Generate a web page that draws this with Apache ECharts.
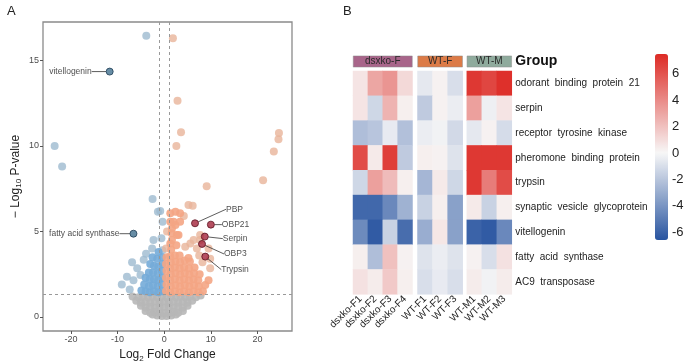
<!DOCTYPE html>
<html><head><meta charset="utf-8">
<script src="https://cdn.jsdelivr.net/npm/echarts@6/dist/echarts.min.js"></script>
<style>html,body{margin:0;padding:0;background:#fff}#c{width:692px;height:362px}</style>
</head><body><div id="c"></div>
<script>
// ---------- Panel A : volcano plot data (log2 fold change, -log10 p) ----------
const grayPoints = [
  [-2.5,0.15],[-1.5,0.08],[-0.5,0.05],[0.5,0.05],[1.5,0.08],[2.5,0.15],
  [-4,0.35],[-3,0.25],[-2,0.3],[-1,0.2],[0,0.25],[1,0.2],[2,0.3],[3,0.25],[4,0.35],
  [-5,0.65],[-4,0.55],[-3,0.6],[-2,0.55],[-1,0.6],[0,0.55],[1,0.6],[2,0.55],[3,0.6],[4,0.55],[5,0.65],
  [-6,0.95],[-5,0.85],[-4,0.9],[-3,0.85],[-2,0.9],[-1,0.85],[0,0.9],[1,0.85],[2,0.9],[3,0.85],[4,0.9],[5,0.85],[6,0.95],
  [-6.8,1.2],[-5.5,1.15],[-4.5,1.2],[-3.5,1.15],[-2.5,1.2],[-1.5,1.15],[-0.5,1.2],[0.5,1.15],[1.5,1.2],[2.5,1.15],[3.5,1.2],[4.5,1.15],[5.5,1.2],[6.8,1.15],[7.8,1.25]
];
const bluePoints = [
  [-0.4,1.5],[-1.3,1.45],[-2.2,1.5],[-3.1,1.45],[-4.0,1.5],[-4.9,1.55],
  [-0.5,1.9],[-1.4,1.8],[-2.4,1.85],[-3.3,1.8],[-4.3,1.9],
  [-0.4,2.3],[-1.3,2.15],[-2.2,2.2],[-3.1,2.2],[-4.0,2.3],
  [-0.5,2.7],[-1.4,2.55],[-2.4,2.6],[-3.3,2.6],
  [-0.4,3.1],[-1.3,2.95],[-2.2,3.0],[-3.0,3.1],
  [-0.5,3.5],[-1.5,3.4],[-2.5,3.5],[-1.2,3.8]
];
const bluePalePoints = [
  [-9.1,1.9],[-8.0,2.35],[-7.4,1.6],[-6.6,2.15],[-5.8,2.85],[-5.1,2.45],[-6.9,3.2],
  [-4.4,3.35],[-3.9,3.7],[-2.6,4.0],[-2.3,4.5],[-0.4,3.9],[-0.6,4.6],[-0.36,5.57],
  [-1.35,6.15],[-0.86,6.2],[-2.5,6.9],[-3.85,16.45],[-23.5,10.0],[-21.9,8.8]
];
const orangePoints = [
  [0.4,1.5],[1.3,1.45],[2.3,1.5],[3.3,1.45],[4.3,1.5],[5.3,1.45],[6.3,1.5],[7.3,1.45],[8.3,1.5],
  [0.5,1.9],[1.4,1.8],[2.4,1.85],[3.4,1.8],[4.4,1.85],[5.4,1.8],[6.4,1.85],[7.4,1.8],[8.8,1.87],
  [0.4,2.3],[1.3,2.15],[2.3,2.2],[3.3,2.15],[4.3,2.2],[5.3,2.15],[6.3,2.2],[7.3,2.15],[9.5,2.15],
  [0.5,2.7],[1.4,2.5],[2.4,2.55],[3.4,2.5],[4.4,2.55],[5.4,2.5],[6.4,2.55],[7.6,2.5],
  [0.4,3.1],[1.3,2.85],[2.3,2.9],[3.3,2.85],[4.3,2.9],[5.3,2.85],[6.5,2.9],
  [0.5,3.5],[1.4,3.2],[2.4,3.25],[3.4,3.2],[4.4,3.3],[5.5,3.25],
  [1.3,3.55],[2.3,3.6],[3.3,3.6],[5.2,3.45],
  [1.5,3.95],[2.6,4.2],[1.3,4.3],[1.65,4.5],[1.6,4.9],[2.7,4.8],[3.06,4.8],[1.65,5.17],
  [2.4,5.38],[1.3,5.57],[2.0,5.57],[3.4,5.57],[1.3,6.06],[2.4,6.16],[3.4,6.06]
];
const orangePalePoints = [
  [4.5,4.1],[5.6,4.3],[6.3,4.5],[7.0,4.0],[7.7,4.5],[7.7,4.8],[9.5,4.0],[9.85,3.4],[9.85,2.85],
  [8.2,3.2],[7.5,3.6],[0.4,4.0],[0.6,5.0],[5.2,6.55],[6.1,6.5],[4.2,5.9],[9.1,7.65],
  [21.2,8.0],[23.5,9.67],[24.5,10.4],[24.6,10.76],[2.6,10.0],[3.6,10.8],[2.85,12.65],[1.86,16.3]
];
const downGenes = ['vitellogenin','fatty acid synthase'];
const downFC = [-11.7,-6.6];
const downP = [14.35,4.87];
const upGenes = ['PBP','OBP21','Serpin','OBP3','Trypsin'];
const upFC = [6.6,10.0,8.7,8.1,8.8];
const upP = [5.48,5.4,4.7,4.27,3.53];
const xTicks = [-20,-10,0,10,20];
const yTicks = [0,5,10,15];
const fcCutoffs = [-1,1];
const pCutoff = 1.3;

// ---------- Panel B : heatmap data ----------
const genes = ['odorant binding protein 21','serpin','receptor tyrosine kinase','pheromone binding protein','trypsin',
  'synaptic vesicle glycoprotein','vitellogenin','fatty acid synthase','AC9 transposase'];
const groups = ['dsxko-F','WT-F','WT-M'];
const dsxkoSamples = ['dsxko-F1','dsxko-F2','dsxko-F3','dsxko-F4'];
const wtfSamples = ['WT-F1','WT-F2','WT-F3'];
const wtmSamples = ['WT-M1','WT-M2','WT-M3'];
const dsxkoValues = [
  [0.7,3.0,3.6,1.1],
  [0.7,-1.3,2.5,0.3],
  [-2.3,-2.0,-0.5,-2.2],
  [6.3,0.5,6.8,-1.8],
  [-1.3,3.2,2.2,0.3],
  [-5.8,-5.8,-4.5,-2.8],
  [-4.4,-6.3,-1.5,-5.6],
  [0.3,-2.3,2.0,0.2],
  [0.8,0.4,1.7,0.3]
];
const wtfValues = [
  [-0.6,0.2,-1.0],
  [-1.8,0.2,-0.4],
  [-0.4,-0.2,-1.2],
  [0.3,0.2,-0.8],
  [-2.6,0.5,-1.3],
  [-1.5,0.3,-3.5],
  [-3.0,0.6,-3.5],
  [-0.8,-0.4,-0.8],
  [-1.0,-0.5,-1.0]
];
const wtmValues = [
  [7.0,6.5,7.3],
  [3.2,-0.3,0.7],
  [-0.6,0.2,-1.1],
  [7.0,7.0,7.0],
  [7.0,4.5,6.3],
  [0.5,-1.5,0.3],
  [-6.0,-6.3,-4.5],
  [0.2,-1.0,0.8],
  [0.4,-0.2,0.4]
];
const colorbarTicks = [-6,-4,-2,0,2,4,6];
const colorMin = -6.6, colorMax = 7.5;

// ---------- build ----------
const FONT = 'Liberation Sans, Arial, Helvetica, sans-serif';
function mix(a,b,t){return 'rgb('+a.map((x,i)=>Math.round(x+(b[i]-x)*t)).join(',')+')';}
const lowC=[40,84,160], midC=[247,247,247], highC=[221,43,37];
const ramp=[];
for(let i=0;i<=70;i++){const v=colorMin+(colorMax-colorMin)*i/70; ramp.push(v<0?mix(midC,lowC,v/colorMin):mix(midC,highC,v/colorMax));}

const heatLayout = [
  {samples: dsxkoSamples, values: dsxkoValues, left:353, width:59.5, color:'#a8658a'},
  {samples: wtfSamples, values: wtfValues, left:417.5, width:45.2, color:'#dc7b47'},
  {samples: wtmSamples, values: wtmValues, left:466.8, width:45, color:'#8fab9d'}
];
const heatTop = 71, heatHeight = 223.3, annTop = 55.7, annHeight = 11.6;

const grid = [{left:43, top:22, width:249, height:309, show:true, borderColor:'#8a8a8a', borderWidth:1.3, backgroundColor:'#fff', outerBoundsMode:'none', containLabel:false}];
const xAxis = [{
  type:'value', gridIndex:0, min:-26, max:27.4,
  splitLine:{show:false}, axisLine:{show:false, onZero:false},
  axisTick:{show:true, customValues:xTicks, length:3, lineStyle:{color:'#555'}},
  axisLabel:{customValues:xTicks, fontSize:9, color:'#4d4d4d', margin:4, fontFamily:FONT},
  name:'Log{s|2} Fold Change', nameLocation:'middle', nameGap:16,
  nameTextStyle:{fontSize:12, color:'#222', fontFamily:FONT, rich:{s:{fontSize:8, padding:[7,0,0,0], fontFamily:FONT, color:'#222'}}}
}];
const yAxis = [{
  type:'value', gridIndex:0, min:-0.82, max:17.25,
  splitLine:{show:false}, axisLine:{show:false, onZero:false},
  axisTick:{show:true, customValues:yTicks, length:3, lineStyle:{color:'#555'}},
  axisLabel:{customValues:yTicks, fontSize:9, color:'#4d4d4d', margin:4, fontFamily:FONT},
  name:'− Log{s|10} P-value', nameLocation:'middle', nameGap:20, nameRotate:90,
  nameTextStyle:{fontSize:12, color:'#222', fontFamily:FONT, rich:{s:{fontSize:8, padding:[7,0,0,0], fontFamily:FONT, color:'#222'}}}
}];

const series = [];
const ptStyle = (c,o)=>({color:c, opacity:o});
series.push({type:'scatter', xAxisIndex:0, yAxisIndex:0, data:grayPoints, symbolSize:8, itemStyle:ptStyle('#b7b7b7',0.9), silent:true, z:2});
series.push({type:'scatter', xAxisIndex:0, yAxisIndex:0, data:bluePalePoints, symbolSize:8, itemStyle:ptStyle('#9dbad0',0.8), silent:true, z:2});
series.push({type:'scatter', xAxisIndex:0, yAxisIndex:0, data:bluePoints, symbolSize:8, itemStyle:ptStyle('#74abd8',0.9), silent:true, z:2});
series.push({type:'scatter', xAxisIndex:0, yAxisIndex:0, data:orangePalePoints, symbolSize:8, itemStyle:ptStyle('#e9b49a',0.8), silent:true, z:2});
series.push({type:'scatter', xAxisIndex:0, yAxisIndex:0, data:orangePoints, symbolSize:8, itemStyle:ptStyle('#f4a584',0.9), silent:true, z:2,
  markLine:{silent:true, symbol:'none', label:{show:false}, lineStyle:{type:[3,3], color:'#999', width:1},
    data:[{xAxis:fcCutoffs[0]},{xAxis:fcCutoffs[1]},{yAxis:pCutoff}]}});
const downOffsets = [[-9,0],[-5,0]];
series.push({type:'scatter', xAxisIndex:0, yAxisIndex:0, z:10, silent:true,
  data: downGenes.map((g,i)=>({name:g, value:[downFC[i],downP[i]]})),
  symbolSize:7, itemStyle:{color:'#41708f', borderColor:'#1f3d55', borderWidth:1},
  label:{show:true, position:'left', distance:5, formatter:'{b}', fontSize:8.5, color:'#222', fontFamily:FONT},
  labelLine:{show:true, lineStyle:{color:'#333', width:0.8}},
  labelLayout: p=>({dx:downOffsets[p.dataIndex][0], dy:downOffsets[p.dataIndex][1]})
});
const upOffsets = [[22,-14],[2,0],[9,2],[13,10],[7,13]];
series.push({type:'scatter', xAxisIndex:0, yAxisIndex:0, z:10, silent:true,
  data: upGenes.map((g,i)=>({name:g, value:[upFC[i],upP[i]]})),
  symbolSize:7, itemStyle:{color:'#a3243b', borderColor:'#5c1422', borderWidth:1},
  label:{show:true, position:'right', distance:5, formatter:'{b}', fontSize:8.5, color:'#222', fontFamily:FONT},
  labelLine:{show:true, lineStyle:{color:'#333', width:0.8}},
  labelLayout: p=>({dx:upOffsets[p.dataIndex][0], dy:upOffsets[p.dataIndex][1]})
});

// heatmaps (grid 1..3)
const heatSeriesIdx = [];
heatLayout.forEach((h, gi)=>{
  const idx = grid.length;
  grid.push({left:h.left, top:heatTop, width:h.width, height:heatHeight, outerBoundsMode:'none', containLabel:false});
  xAxis.push({type:'category', gridIndex:idx, data:h.samples, axisLine:{show:false}, axisTick:{show:false},
    axisLabel:{rotate:45, fontSize:10, color:'#222', margin:3, fontFamily:FONT, interval:0}, splitLine:{show:false}});
  const last = gi === heatLayout.length-1;
  yAxis.push({type:'category', gridIndex:idx, data:genes, inverse:true, position:'right',
    axisLine:{show:false}, axisTick:{show:false}, splitLine:{show:false},
    axisLabel:{show:last, margin:3.5, fontSize:10, color:'#222', fontFamily:FONT, formatter:s=>s.split(' ').join('  ')}});
  const data=[];
  h.values.forEach((row,r)=>row.forEach((v,c)=>data.push([c,r,v])));
  heatSeriesIdx.push(series.length);
  series.push({type:'heatmap', xAxisIndex:idx, yAxisIndex:idx, data:data, silent:true, emphasis:{disabled:true}});
});
// group annotation bars (grid 4..6)
heatLayout.forEach((h, gi)=>{
  const idx = grid.length;
  grid.push({left:h.left, top:annTop, width:h.width, height:annHeight, outerBoundsMode:'none', containLabel:false});
  xAxis.push({type:'value', gridIndex:idx, min:0, max:1, show:false});
  const last = gi === heatLayout.length-1;
  yAxis.push({type:'category', gridIndex:idx, data:['Group'], position:'right', show:last,
    axisLine:{show:false}, axisTick:{show:false},
    axisLabel:{margin:3.5, fontSize:14, fontWeight:'bold', color:'#111', fontFamily:FONT}});
  series.push({type:'bar', xAxisIndex:idx, yAxisIndex:idx, barWidth:'100%', silent:true,
    data:[{value:1, name:groups[gi], itemStyle:{color:h.color, borderColor:'#8c8c8c', borderWidth:0.5}}],
    label:{show:true, position:'inside', formatter:groups[gi], fontSize:10, color:'#2a2a2a', fontFamily:FONT}});
});
// colorbar axis (grid 7)
{
  const idx = grid.length;
  grid.push({left:655, top:54, width:13, height:186, outerBoundsMode:'none', containLabel:false});
  xAxis.push({type:'category', gridIndex:idx, data:['c'], show:false});
  yAxis.push({type:'value', gridIndex:idx, min:colorMin, max:colorMax, position:'right',
    axisLine:{show:false}, axisTick:{show:false}, splitLine:{show:false},
    axisLabel:{customValues:colorbarTicks, fontSize:13, color:'#222', margin:4, fontFamily:FONT}});
  series.push({type:'scatter', xAxisIndex:idx, yAxisIndex:idx, data:[], silent:true});
}

const option = {
  animation:false,
  backgroundColor:'#fff',
  textStyle:{fontFamily:FONT},
  title:[
    {text:'A', left:7, top:5, padding:0, textStyle:{fontSize:13, fontWeight:'normal', color:'#222', fontFamily:FONT}},
    {text:'B', left:343, top:5, padding:0, textStyle:{fontSize:13, fontWeight:'normal', color:'#222', fontFamily:FONT}}
  ],
  grid, xAxis, yAxis, series,
  visualMap:{type:'continuous', min:colorMin, max:colorMax, seriesIndex:heatSeriesIdx, inRange:{color:ramp},
    calculable:false, hoverLink:false, left:655, top:54, itemWidth:13, itemHeight:186, padding:0, text:null, orient:'vertical'}
};
const chart = echarts.init(document.getElementById('c'));
chart.setOption(option);
</script></body></html>
